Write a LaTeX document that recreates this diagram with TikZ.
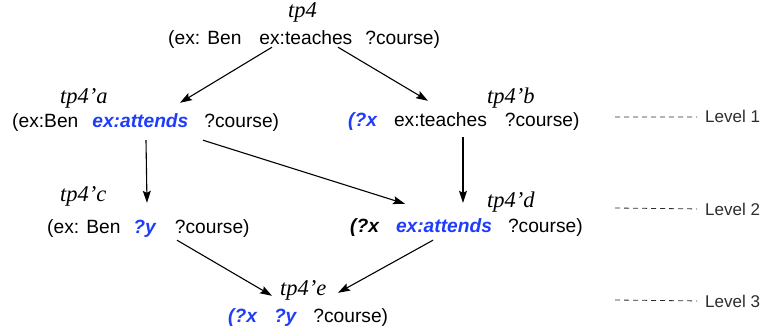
\documentclass[tikz,border=0pt]{standalone}
\usepackage{fontspec}
\setmainfont{Liberation Sans}
\newfontfamily\labfont{Liberation Serif}
\usetikzlibrary{arrows.meta,calc}
\definecolor{qblue}{RGB}{30,60,250}
\definecolor{lvlgray}{RGB}{45,45,45}
\newcommand{\bv}[1]{\textcolor{qblue}{\bfseries\itshape #1}}
\newcommand{\gp}[1]{\hspace{#1pt}}
\tikzset{
  triple/.style={anchor=base west, inner sep=0pt, text height=14pt, text depth=4pt,
    font=\fontsize{19.2}{22}\selectfont},
  tplabel/.style={anchor=base west, inner sep=0pt,
    font=\labfont\itshape\fontsize{22.5}{26}\selectfont},
  lvl/.style={anchor=base west, inner sep=0pt, text=lvlgray,
    font=\fontsize{17}{20}\selectfont},
  arr/.style={-{Stealth[length=12pt,width=8pt,inset=2pt]}, line width=1.1pt},
  lvlline/.style={draw=lvlgray, line width=0.8pt, dash pattern=on 5pt off 4pt}
}
\begin{document}
\begin{tikzpicture}[x=1pt,y=-1pt]
\useasboundingbox (0,0) rectangle (765,334);
% labels
\node[tplabel] (L0) at (288,18) {tp4};
\node[tplabel] (La) at (60,103) {tp4’a};
\node[tplabel] (Lb) at (487,103) {tp4’b};
\node[tplabel] (Lc) at (60,201) {tp4’c};
\node[tplabel] (Ld) at (487,207) {tp4’d};
\node[tplabel] (Le) at (280,295) {tp4’e};
% triples
\node[triple] (top) at (168,45) {(ex: Ben\gp{18}ex:teaches\gp{13}?course)};
\node[triple] (a) at (12,128) {(ex:Ben\gp{14}\bv{ex:attends}\gp{16}?course)};
\node[triple] (b) at (348,127) {\bv{(?x}\gp{17}ex:teaches\gp{18}?course)};
\node[triple] (c) at (47,233) {(ex: Ben\gp{13}\bv{?y}\gp{19}?course)};
\node[triple] (d) at (350,232) {{\bfseries\itshape (?x}\gp{17}\bv{ex:attends}\gp{16}?course)};
\node[triple] (e) at (228,322) {\bv{(?x}\gp{17}\bv{?y}\gp{17}?course)};
% arrows
\draw[arr] ($(top.south west)+(104,-2)$) -- ($(a.north west)+(168,-11)$);
\draw[arr] ($(top.south west)+(170,-2)$) -- ($(b.north west)+(80,-12)$);
\draw[arr] ($(a.south west)+(134,8)$) -- ($(c.north west)+(100,-16)$);
\draw[arr] ($(a.south west)+(191,8)$) -- ($(d.north west)+(55,-14)$);
\draw[arr] ($(b.south west)+(115,6)$) -- ($(d.north west)+(113,-15)$);
\draw[arr] ($(c.south west)+(130,3)$) -- ($(e.north west)+(44,-12)$);
\draw[arr] ($(d.south west)+(83,4)$) -- ($(e.north west)+(110,-15)$);
% levels
\node[lvl] (l1) at (705,123) {Level 1};
\node[lvl] (l2) at (705,215) {Level 2};
\node[lvl] (l3) at (705,307) {Level 3};
\coordinate (d1) at (615,117);
\coordinate (d2) at (615,208);
\coordinate (d3) at (615,300);
\draw[lvlline] (d1) -- ($(l1.west)+(-8,0)$ |- d1);
\draw[lvlline] (d2) -- ($(l2.west)+(-8,0)$ |- d2);
\draw[lvlline] (d3) -- ($(l3.west)+(-8,0)$ |- d3);
\end{tikzpicture}
\end{document}
